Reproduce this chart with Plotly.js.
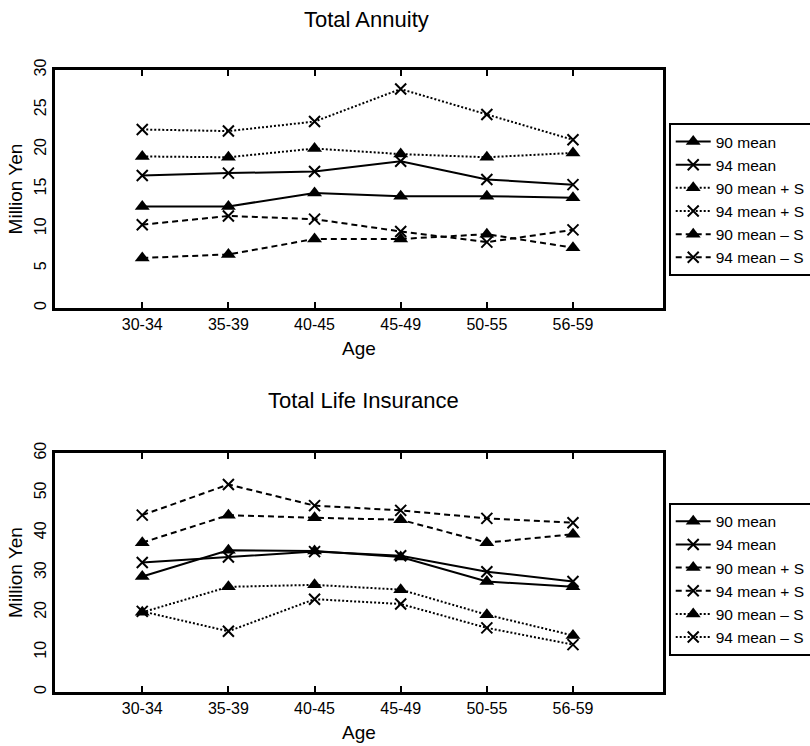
<!DOCTYPE html>
<html>
<head>
<meta charset="utf-8">
<script src="https://cdn.plot.ly/plotly-3.0.1.min.js"></script>
<style>html,body{margin:0;padding:0;background:#fff;}#chart{width:810px;height:746px;}</style>
</head>
<body>
<div id="chart"></div>
<script>
// Categories
var ages = ['30-34', '35-39', '40-45', '45-49', '50-55', '56-59'];

// Total Annuity (million yen)
var annuity90Mean  = [12.8, 12.8, 14.5, 14.1, 14.1, 13.9];
var annuity94Mean  = [16.7, 17.0, 17.2, 18.5, 16.2, 15.55];
var annuity90Plus  = [19.1, 19.0, 20.1, 19.4, 19.0, 19.55];
var annuity94Plus  = [22.5, 22.3, 23.5, 27.6, 24.4, 21.2];
var annuity90Minus = [6.3, 6.75, 8.7, 8.7, 9.3, 7.6];
var annuity94Minus = [10.5, 11.6, 11.2, 9.65, 8.3, 9.85];

// Total Life Insurance (million yen)
var life90Mean  = [29.0, 35.6, 35.4, 33.9, 27.75, 26.4];
var life94Mean  = [32.5, 33.9, 35.25, 34.2, 30.2, 27.75];
var life90Plus  = [37.5, 44.4, 43.75, 43.25, 37.5, 39.6];
var life94Plus  = [44.4, 52.1, 46.8, 45.6, 43.6, 42.5];
var life90Minus = [20.0, 26.4, 26.9, 25.7, 19.4, 14.2];
var life94Minus = [20.25, 15.25, 23.3, 22.1, 16.1, 11.9];

// Labels
var names = ['90 mean', '94 mean', '90 mean + S', '94 mean + S', '90 mean \u2013 S', '94 mean \u2013 S'];

var DOT = '2px,2px';
var DASH = '6px,4px';

function tr(name, y, sym, dash, xa, ya, leg) {
  var isX = sym === 'x';
  return {
    type: 'scatter', mode: 'lines+markers', name: name,
    x: ages, y: y, xaxis: xa, yaxis: ya, legend: leg,
    line: {color: '#000', width: 2, dash: dash},
    marker: isX
      ? {symbol: 'x-thin-open', size: 11, color: '#000', line: {color: '#000', width: 2}}
      : {symbol: 'triangle-up', size: 13, color: '#000', line: {width: 0}},
    cliponaxis: false
  };
}

var data = [
  tr(names[0], annuity90Mean, 'tri', 'solid', 'x', 'y', 'legend'),
  tr(names[1], annuity94Mean, 'x', 'solid', 'x', 'y', 'legend'),
  tr(names[2], annuity90Plus, 'tri', DOT, 'x', 'y', 'legend'),
  tr(names[3], annuity94Plus, 'x', DOT, 'x', 'y', 'legend'),
  tr(names[4], annuity90Minus, 'tri', DASH, 'x', 'y', 'legend'),
  tr(names[5], annuity94Minus, 'x', DASH, 'x', 'y', 'legend'),
  tr(names[0], life90Mean, 'tri', 'solid', 'x2', 'y2', 'legend2'),
  tr(names[1], life94Mean, 'x', 'solid', 'x2', 'y2', 'legend2'),
  tr(names[2], life90Plus, 'tri', DASH, 'x2', 'y2', 'legend2'),
  tr(names[3], life94Plus, 'x', DASH, 'x2', 'y2', 'legend2'),
  tr(names[4], life90Minus, 'tri', DOT, 'x2', 'y2', 'legend2'),
  tr(names[5], life94Minus, 'x', DOT, 'x2', 'y2', 'legend2')
];

var FAM = 'Liberation Sans, Arial, sans-serif';
var tickFont = {family: FAM, size: 16, color: '#000'};
var titleFont = {family: FAM, size: 19, color: '#000'};

function xAxis(anchor) {
  return {
    anchor: anchor, type: 'category', range: [-1.013, 6.045], domain: [0, 1],
    showline: true, linecolor: '#000', linewidth: 3, mirror: 'ticks',
    ticks: 'inside', ticklen: 6, tickwidth: 2, tickcolor: '#000',
    showgrid: false, zeroline: false, tickfont: tickFont,
    title: {text: 'Age', font: titleFont, standoff: 10},
    fixedrange: true
  };
}
function yAxis(anchor, domain, range, dtick) {
  return {
    anchor: anchor, domain: domain, range: range, dtick: dtick,
    showline: true, linecolor: '#000', linewidth: 3, mirror: true,
    ticks: '', showgrid: false, zeroline: false,
    tickangle: -90, tickfont: tickFont,
    title: {text: 'Million Yen', font: titleFont, standoff: 4},
    fixedrange: true
  };
}

var legendBase = {
  xref: 'paper', yref: 'paper', xanchor: 'left', yanchor: 'top',
  bgcolor: '#fff', bordercolor: '#000', borderwidth: 2,
  font: {family: FAM, size: 15.5, color: '#000'},
  itemwidth: 35, tracegroupgap: 0
};

var layout = {
  width: 810, height: 746,
  margin: {l: 55, r: 147, t: 70, b: 54, autoexpand: false},
  paper_bgcolor: '#fff', plot_bgcolor: '#fff',
  font: {family: FAM, color: '#000'},
  showlegend: true,
  xaxis: xAxis('y'),
  yaxis: yAxis('x', [0.6174, 1], [0, 30], 5),
  xaxis2: xAxis('y2'),
  yaxis2: yAxis('x2', [0, 0.3842], [0, 60], 10),
  legend: Object.assign({}, legendBase, {x: 1.0094, y: 0.9148}),
  legend2: Object.assign({}, legendBase, {x: 1.0094, y: 0.3043}),
  annotations: [
    {text: 'Total Annuity', xref: 'paper', yref: 'paper', x: 0.513, y: 1.0815,
     xanchor: 'center', yanchor: 'middle', showarrow: false,
     font: {family: FAM, size: 22, color: '#000'}},
    {text: 'Total Life Insurance', xref: 'paper', yref: 'paper', x: 0.508, y: 0.4685,
     xanchor: 'center', yanchor: 'middle', showarrow: false,
     font: {family: FAM, size: 22, color: '#000'}}
  ]
};

Plotly.newPlot('chart', data, layout, {displayModeBar: false, staticPlot: true});
</script>
</body>
</html>
